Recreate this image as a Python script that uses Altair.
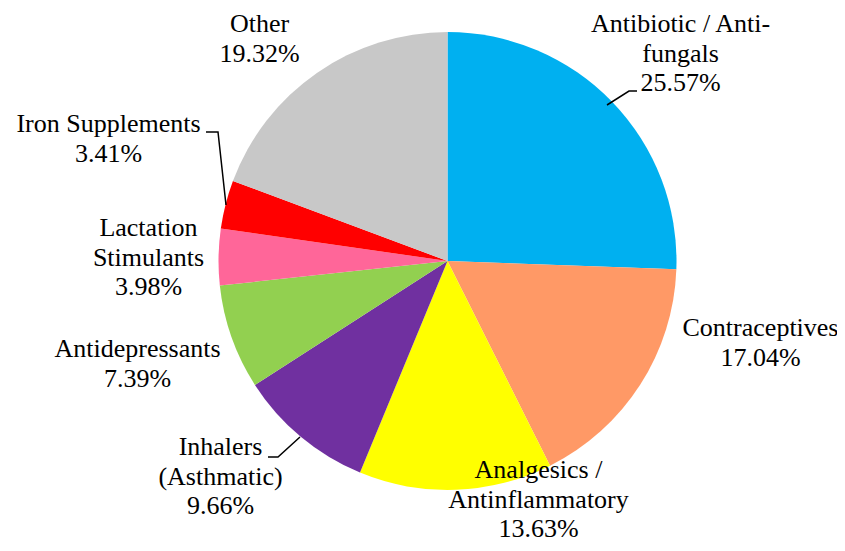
import altair as alt
import pandas as pd

# ---- data ----
categories = ["Antibiotic / Anti-fungals", "Contraceptives", "Analgesics / Antinflammatory",
              "Inhalers (Asthmatic)", "Antidepressants", "Lactation Stimulants",
              "Iron Supplements", "Other"]
shares = [25.57, 17.04, 13.63, 9.66, 7.39, 3.98, 3.41, 19.32]
label_names = ["Antibiotic / Anti-\nfungals", "Contraceptives", "Analgesics /\nAntinflammatory",
               "Inhalers\n(Asthmatic)", "Antidepressants", "Lactation\nStimulants",
               "Iron Supplements", "Other"]
colors = ["#00B0F0", "#FF9966", "#FFFF00", "#7030A0", "#92D050", "#FF6699", "#FF0000", "#C8C8C8"]

# ---- layout (pixels, chart coordinates) ----
W, H = 829, 535
CX, CY, R = 439.5, 253, 229
# offsets of the first label line from the pie centre
label_dx = [233, 313, 91, -227, -310, -299, -339, -188]
label_dy = [-237, 67, 209, 186, 88, -33, -137, -237]
leaders = {
    "Antibiotic / Anti-fungals": [(629, 83), (621, 83), (599, 97)],
    "Iron Supplements": [(198, 124), (210, 124), (218, 197)],
    "Inhalers (Asthmatic)": [(260, 449), (270, 449), (292, 429)],
}

df = pd.DataFrame({
    "category": categories,
    "share": shares,
    "order": list(range(len(categories))),
    "label": [f"{n}\n{s:.2f}%" for n, s in zip(label_names, shares)],
    "lx": [CX + d for d in label_dx],
    "ly": [CY + d for d in label_dy],
})

lrows = []
for k, pts in leaders.items():
    for i, (x, y) in enumerate(pts):
        lrows.append({"leader": k, "i": i, "x": x, "y": y})
ldf = pd.DataFrame(lrows)

pie = alt.Chart(df).mark_arc(outerRadius=R, stroke=None).encode(
    theta=alt.Theta("share:Q", stack=True),
    order=alt.Order("order:Q"),
    color=alt.Color("category:N", scale=alt.Scale(domain=categories, range=colors), legend=None),
    x=alt.value(CX),
    y=alt.value(CY),
)

labels = alt.Chart(df).mark_text(
    font="Liberation Serif", fontSize=26, lineBreak="\n", lineHeight=29.5,
    align="center", baseline="middle", color="black",
).encode(
    x=alt.X("lx:Q", scale=None),
    y=alt.Y("ly:Q", scale=None),
    text="label:N",
)

lines = alt.Chart(ldf).mark_line(color="black", strokeWidth=1.5).encode(
    x=alt.X("x:Q", scale=None),
    y=alt.Y("y:Q", scale=None),
    detail="leader:N",
    order="i:Q",
)

chart = alt.layer(pie, lines, labels).properties(
    width=W, height=H, autosize=alt.AutoSizeParams(type="none"), padding=0,
).configure_view(stroke=None)

chart.save("out.html", embed_options={"renderer": "svg", "actions": False})
